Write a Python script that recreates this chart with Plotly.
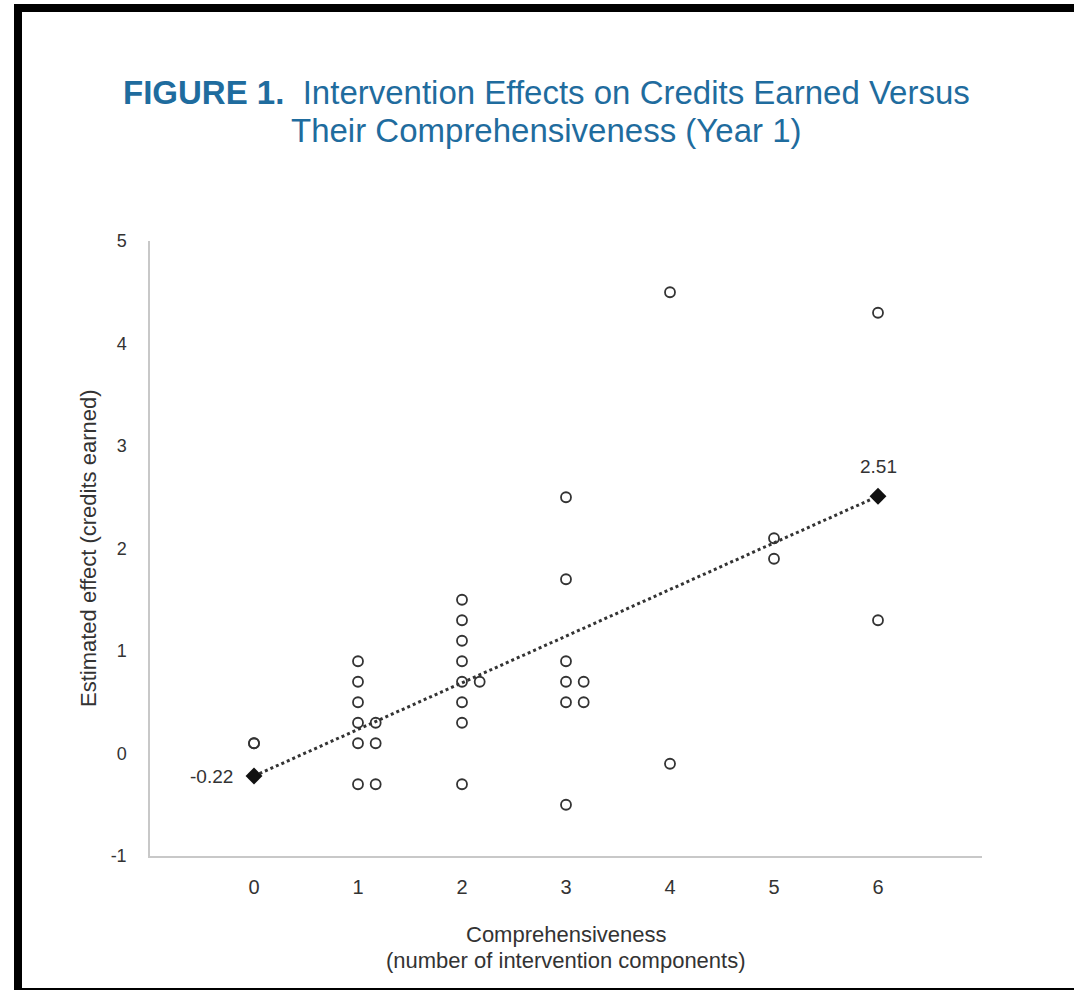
import plotly.graph_objects as go

# Study-level estimated effects (x = number of components, jittered as drawn)
study_x = [0, 0,
           1, 1, 1, 1, 1, 1, 1.17, 1.17, 1.17,
           2, 2, 2, 2, 2, 2, 2, 2, 2.17,
           3, 3, 3, 3, 3, 3, 3.17, 3.17,
           4, 4,
           5, 5,
           6, 6]
study_y = [0.1, 0.1,
           0.9, 0.7, 0.5, 0.3, 0.1, -0.3, 0.3, 0.1, -0.3,
           1.5, 1.3, 1.1, 0.9, 0.7, 0.5, 0.3, -0.3, 0.7,
           2.5, 1.7, 0.9, 0.7, 0.5, -0.5, 0.7, 0.5,
           4.5, -0.1,
           2.1, 1.9,
           4.3, 1.3]

# Fitted line end points
fit_x = [0, 6]
fit_y = [-0.22, 2.51]
fit_labels = ["-0.22", "2.51"]

x_ticks = [0, 1, 2, 3, 4, 5, 6]
y_ticks = [-1, 0, 1, 2, 3, 4, 5]
y_tick_text = ["-1", "0", "1", "2", "3", "4", "5"]

title_lines = ["<b>FIGURE 1.</b>\u00a0\u00a0Intervention Effects on Credits Earned Versus",
               "Their Comprehensiveness (Year 1)"]
x_title_lines = ["Comprehensiveness", "(number of intervention components)"]
y_title = "Estimated effect (credits earned)"

W, H = 1074, 990
L, R, T, B = 150, 982, 241, 856  # plot area pixels


def px(xp):
    return (xp - L) / (R - L)


def py(yp):
    return (B - yp) / (B - T)


TXT = "#333333"
BLUE = "#1f6c9e"
FONT = "Liberation Sans, Arial, sans-serif"

fig = go.Figure()
fig.add_trace(go.Scatter(
    x=fit_x, y=fit_y, mode="lines",
    line=dict(color="#333333", width=3, dash="3px,3px"),
    hoverinfo="skip", showlegend=False))
fig.add_trace(go.Scatter(
    x=study_x, y=study_y, mode="markers",
    marker=dict(symbol="circle-open", size=10, color="#333333",
                line=dict(width=1.8, color="#333333")),
    showlegend=False))
fig.add_trace(go.Scatter(
    x=fit_x, y=fit_y, mode="markers",
    marker=dict(symbol="diamond", size=13, color="#111111"),
    showlegend=False))

fig.add_annotation(x=fit_x[0], y=fit_y[0], text=fit_labels[0], showarrow=False,
                   xanchor="right", yanchor="middle", xshift=-19,
                   font=dict(size=19, color=TXT, family=FONT))
fig.add_annotation(x=fit_x[1], y=fit_y[1], text=fit_labels[1], showarrow=False,
                   xanchor="center", yanchor="middle", yshift=30,
                   font=dict(size=19, color=TXT, family=FONT))

# Title
for line, yc in zip(title_lines, [93, 131]):
    fig.add_annotation(
        xref="paper", yref="paper", x=px(546), y=py(yc),
        xanchor="center", yanchor="middle", showarrow=False,
        text=line, font=dict(size=33, color=BLUE, family=FONT))

# Axis titles
for line, yc in zip(x_title_lines, [934, 960]):
    fig.add_annotation(
        xref="paper", yref="paper", x=px(566), y=py(yc),
        xanchor="center", yanchor="middle", showarrow=False,
        text=line, font=dict(size=22, color=TXT, family=FONT))
fig.add_annotation(
    xref="paper", yref="paper", x=px(88), y=py(548),
    xanchor="center", yanchor="middle", showarrow=False, textangle=-90,
    text=y_title, font=dict(size=22, color=TXT, family=FONT))

# Page frame
frame = [
    (14, 4, W, 12),
    (14, 4, 22, H),
    (14, 988, W, H),
]
for x0, y0, x1, y1 in frame:
    fig.add_shape(type="rect", xref="paper", yref="paper",
                  x0=px(x0), x1=px(x1), y0=py(y1), y1=py(y0),
                  fillcolor="black", line=dict(width=0), layer="above")

fig.update_xaxes(range=[-1, 7], tickvals=x_ticks, showgrid=False, zeroline=False,
                 showline=True, linecolor="#c8c8c8", linewidth=1.5,
                 ticks="", ticklabelstandoff=12,
                 tickfont=dict(size=20, color=TXT, family=FONT))
fig.update_yaxes(range=[-1, 5], tickvals=y_ticks, ticktext=y_tick_text,
                 showgrid=False, zeroline=False,
                 showline=True, linecolor="#c8c8c8", linewidth=1.5,
                 ticks="", ticklabelstandoff=18,
                 tickfont=dict(size=18, color=TXT, family=FONT))

fig.update_layout(
    width=W, height=H, autosize=False,
    margin=dict(l=L, r=W - R, t=T, b=H - B, pad=0),
    paper_bgcolor="white", plot_bgcolor="white",
    showlegend=False)

fig.write_html("out.html", config={"displayModeBar": False},
               post_script="document.body.style.margin='0';document.body.style.overflow='hidden';")
